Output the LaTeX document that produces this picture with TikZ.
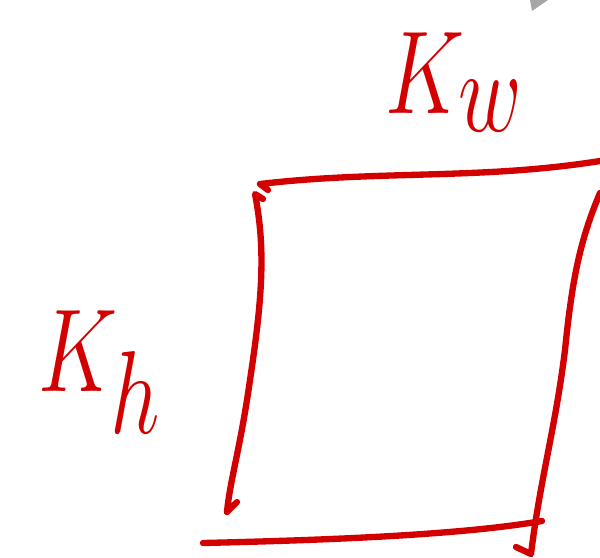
\documentclass[tikz,border=0pt]{standalone}
\usepackage{tikz}
\definecolor{inkred}{RGB}{210,0,0}

\begin{document}
\begin{tikzpicture}[
  x=0.01cm,y=-0.01cm,
  pen/.style={draw=inkred,line width=1.8pt,line cap=round,line join=round},
  lbl/.style={text=inkred,inner sep=0pt,font=\fontsize{54}{62}\selectfont,yscale=1.35,transform shape}
]
\useasboundingbox (0,0) rectangle (600,557);
% stray mark at the top
\fill[gray!70] (530,0) -- (548,0) -- (532,11) -- cycle;

% the four sides
\draw[pen] (268,190) -- (260,184) .. controls (380,170) and (480,180) .. (600,161);
\draw[pen] (263,199) -- (255,194) .. controls (266,250) and (262,300) .. (250,380)
  .. controls (240,450) and (230,480) .. (227,512) -- (237,502);
\draw[pen] (600,193) .. controls (580,240) and (572,280) .. (565,350)
  .. controls (555,430) and (540,480) .. (531,554) -- (516,547);
\draw[pen] (203,543) .. controls (330,540) and (460,535) .. (542,521);

% labels
\node[lbl] (kw) at (455,82) {$K_w$};
\node[lbl] (kh) at (100,372) {$K_h$};
\end{tikzpicture}
\end{document}
